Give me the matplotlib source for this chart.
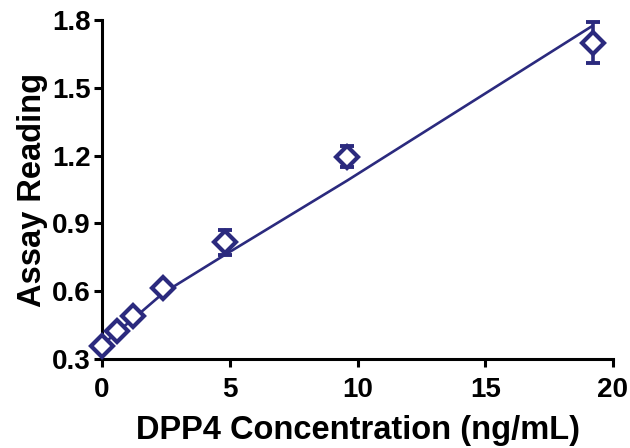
import matplotlib
matplotlib.use("Agg")
import matplotlib.pyplot as plt

# DPP4 standard curve
conc = [0, 0.6, 1.2, 2.4, 4.8, 9.6, 19.2]
reading = [0.358, 0.424, 0.488, 0.613, 0.816, 1.196, 1.700]
reading_err = [0.0, 0.0, 0.0, 0.0, 0.055, 0.045, 0.09]

# fitted curve
fit_x = [0, 0.6, 1.2, 2.4, 4.8, 9.6, 19.2]
fit_y = [0.36, 0.42, 0.475, 0.592, 0.760, 1.090, 1.775]

navy = '#2b2a7e'

plt.rcParams['font.family'] = ['Liberation Sans', 'DejaVu Sans']
plt.rcParams['font.weight'] = 'bold'

fig = plt.figure(figsize=(6.3, 4.48), dpi=100)
ax = fig.add_axes([0.162, 0.199, 0.811, 0.756])

ax.plot(fit_x, fit_y, color=navy, lw=1.9, zorder=2)
ax.errorbar(conc, reading, yerr=reading_err, fmt='none', ecolor=navy,
            elinewidth=2.6, capsize=5, capthick=2.8, zorder=3)
ax.plot(conc, reading, linestyle='none', marker='D', markersize=11,
        markerfacecolor='white', markeredgecolor=navy, markeredgewidth=3,
        zorder=4, clip_on=False)

ax.set_xlim(0, 20)
ax.set_ylim(0.3, 1.8)
ax.set_xticks([0, 5, 10, 15, 20])
ax.set_yticks([0.3, 0.6, 0.9, 1.2, 1.5, 1.8])
ax.set_yticklabels(['0.3', '0.6', '0.9', '1.2', '1.5', '1.8'])

for side in ['top', 'right']:
    ax.spines[side].set_visible(False)
for side in ['left', 'bottom']:
    ax.spines[side].set_linewidth(2.2)
    ax.spines[side].set_color('black')

ax.tick_params(direction='out', length=6, width=2.2, labelsize=20, pad=2)
ax.tick_params(axis='x', pad=7)
for lbl in ax.get_xticklabels() + ax.get_yticklabels():
    lbl.set_fontweight('bold')

ax.set_xlabel('DPP4 Concentration (ng/mL)', fontsize=23.5, fontweight='bold', labelpad=9)
ax.set_ylabel('Assay Reading', fontsize=23.5, fontweight='bold', labelpad=3)

fig.savefig('out.png', dpi=100)
